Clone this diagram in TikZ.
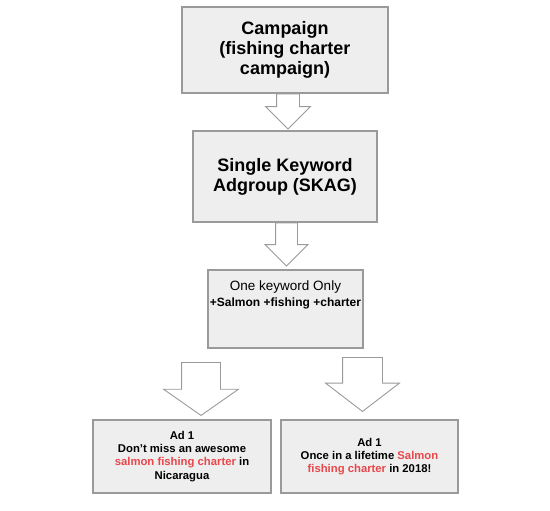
\documentclass[tikz,border=0pt]{standalone}
\usepackage{fontspec}
\setmainfont{Liberation Sans}
\usetikzlibrary{shapes.arrows}

\definecolor{boxgray}{HTML}{EEEEEE}
\definecolor{linegray}{HTML}{9A9A9A}
\definecolor{adred}{HTML}{E8474C}

\begin{document}
\begin{tikzpicture}[x=1pt,y=-1pt,
    box/.style={draw=linegray, line width=1.2pt, fill=boxgray, inner sep=0pt, align=center},
    downarrow/.style={single arrow, draw=linegray, line width=0.9pt, fill=white, inner xsep=0pt, rotate=-90, anchor=tail},
    bigtext/.style={font=\bfseries\fontsize{18}{20}\selectfont},
    adtext/.style={font=\bfseries\fontsize{11.3}{13.2}\selectfont}]
      \useasboundingbox (0,0) rectangle (550,511);
%      \draw [help lines] (0,0) grid [step=50] (550,511);
      \node [box, bigtext, minimum width=206pt, minimum height=86pt] (campaign) at (285,50) {Campaign\\(fishing charter\\campaign)};
      \node [box, bigtext, minimum width=184pt, minimum height=91pt] (skag) at (285,176.5) {Single Keyword\\Adgroup (SKAG)};
      \node [box, minimum width=155pt, minimum height=78pt] (keyword) at (285.5,309) {};
      \node [font=\fontsize{13.5}{15}\selectfont] (oneonly) at (285.5,287) {One keyword Only};
      \node [font=\bfseries\fontsize{12}{14}\selectfont] (modifiers) at (285.5,303.5) {+Salmon +fishing +charter};
      \node [box, adtext, minimum width=178pt, minimum height=73pt] (adleft) at (182,456.5) {Ad 1\\Don't miss an awesome\\\textcolor{adred}{salmon fishing charter} in\\Nicaragua};
      \node [box, adtext, minimum width=177pt, minimum height=73pt] (adright) at (369.5,456.5) {Ad 1\\Once in a lifetime \textcolor{adred}{Salmon}\\\textcolor{adred}{fishing charter} in 2018!};
      % block arrows: inner ysep = half the shaft
      \node [downarrow, minimum height=35pt, inner ysep=11pt, single arrow head extend=11pt] (arrowa) at ([xshift=3pt]campaign.south) {};
      \node [downarrow, minimum height=43pt, inner ysep=10.5pt, single arrow head extend=10.5pt] (arrowb) at ([xshift=1.5pt]skag.south) {};
      \node [downarrow, minimum height=53pt, inner ysep=19pt, single arrow head extend=18pt, single arrow tip angle=110] (arrowc) at (201,362) {};
      \node [downarrow, minimum height=54pt, inner ysep=19.5pt, single arrow head extend=17pt, single arrow tip angle=105] (arrowd) at (362.5,357) {};
\end{tikzpicture}
\end{document}
